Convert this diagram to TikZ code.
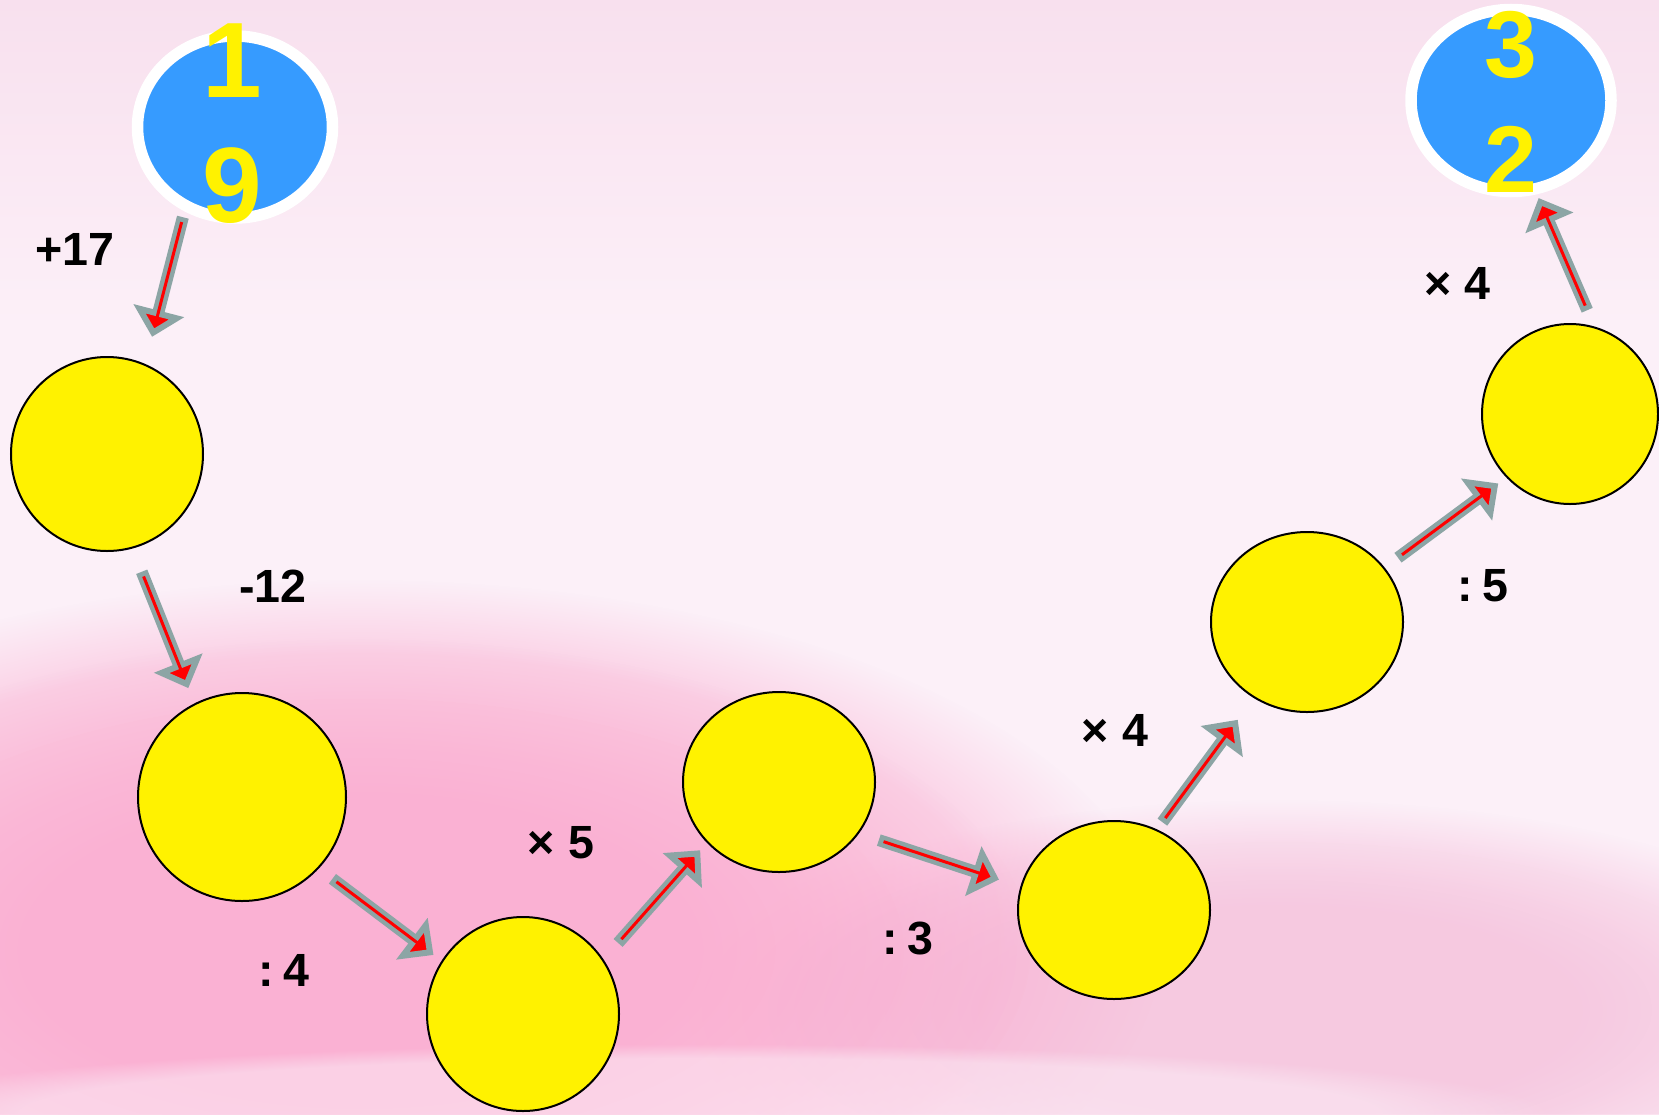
\documentclass[tikz,border=0pt]{standalone}
\usepackage{fontspec}
\setmainfont{Liberation Sans}
\usetikzlibrary{shapes.geometric,arrows.meta,fadings}
\definecolor{ballblue}{RGB}{54,155,255}
\definecolor{opgray}{RGB}{140,165,165}
\definecolor{bglight}{RGB}{252,240,248}
\definecolor{bgtop}{RGB}{248,224,238}
\definecolor{bgpink}{RGB}{250,172,208}
\definecolor{bgrose}{RGB}{246,194,221}
\tikzset{
  box/.style={ellipse, inner sep=0, outer sep=0, fill=yellow, draw=black, line width=0.4mm},
  endball/.style={ellipse, inner sep=0, outer sep=0, fill=ballblue, draw=white, line width=2.3mm},
  opname/.style={inner sep=0, font=\fontsize{26.5}{30}\selectfont\bfseries},
  oparrow/.style={draw=opgray, line width=2.4mm,
    -{Triangle[length=5.4mm, width=10.2mm, fill=red, line width=1.2mm]}},
  opcore/.style={draw=red, line width=0.6mm},
  blob/.style={path fading=circle with fuzzy edge 20 percent}
}
\newcommand{\opstep}[4]{%
  \draw[oparrow, shorten <=#3, shorten >=#4] (#1) -- (#2);
  \draw[opcore, shorten <=#3+1mm, shorten >=#4+3.2mm] (#1) -- (#2);
}
\begin{document}
\begin{tikzpicture}[x=0.2mm, y=-0.2mm]
% background
\useasboundingbox (0,0) rectangle (1659,1114);
\fill[bglight] (0,0) rectangle (1659,1114);
\fill[top color=bgtop, bottom color=bglight] (0,0) rectangle (1659,330);
\foreach \s in {1,0.8,0.62}
  \fill[bgrose, blob, opacity=0.45] (1280,1010) ellipse [x radius=\s*120mm, y radius=\s*42mm];
\foreach \s in {1,0.84,0.68,0.52}
  \fill[bgpink, blob, opacity=0.45] (360,950) ellipse [x radius=\s*160mm, y radius=\s*74mm];
\fill[bglight, blob, opacity=0.5] (700,1114) ellipse [x radius=170mm, y radius=14mm];

% start and goal
\node[endball, minimum width=39mm, minimum height=36.4mm] (start) at (235,127) {};
\node[inner sep=0, align=center, text=yellow,
  font=\fontsize{61}{71}\selectfont\bfseries] (startval) at (232,124) {1\\9};
\node[endball, minimum width=40mm, minimum height=36.4mm] (goal) at (1511,100.5) {};
\node[inner sep=0, align=center, text=yellow,
  font=\fontsize{54}{65.4}\selectfont\bfseries] (goalval) at (1511,101.5) {3\\2};

% empty boxes
\node[box, minimum width=38.4mm, minimum height=38.8mm] (c1) at (107,454) {};
\node[box, minimum width=41.6mm, minimum height=41.6mm] (c2) at (242,797) {};
\node[box, minimum width=38.4mm, minimum height=38.8mm] (c3) at (523,1014) {};
\node[box, minimum width=38.4mm, minimum height=36mm] (c4) at (779,782) {};
\node[box, minimum width=38.4mm, minimum height=35.6mm] (c5) at (1114,910) {};
\node[box, minimum width=38.4mm, minimum height=36mm] (c6) at (1307,622) {};
\node[box, minimum width=35.2mm, minimum height=36mm] (c7) at (1570,414) {};

% operations
\node[opname] (op1) at (74.5,249.5) {+17};
\node[opname] (op2) at (273,586) {-12};
\node[opname] (op3) at (284,970) {:\hspace{0.22em}4};
\node[opname] (op4) at (561,843) {× 5};
\node[opname] (op5) at (908,938) {:\hspace{0.22em}3};
\node[opname] (op6) at (1115,730) {× 4};
\node[opname] (op7) at (1483,586) {:\hspace{0.22em}5};
\node[opname] (op8) at (1457,283) {× 4};

% arrows
\opstep{start.238}{c1.67}{2.4mm}{5.8mm}
\opstep{c1.285}{c2.117}{5.2mm}{3.5mm}
\opstep{c2.317}{c3.147}{3.6mm}{2.2mm}
\opstep{c3.34}{c4.220}{4.6mm}{2.2mm}
\opstep{c4.327}{c5.166}{4.4mm}{4.7mm}
\opstep{c5.62}{c6.235}{2mm}{5.6mm}
\opstep{c6.35}{c7.225}{3.5mm}{2.2mm}
\opstep{c7.74}{goal.285}{3.8mm}{2mm}
\end{tikzpicture}
\end{document}
